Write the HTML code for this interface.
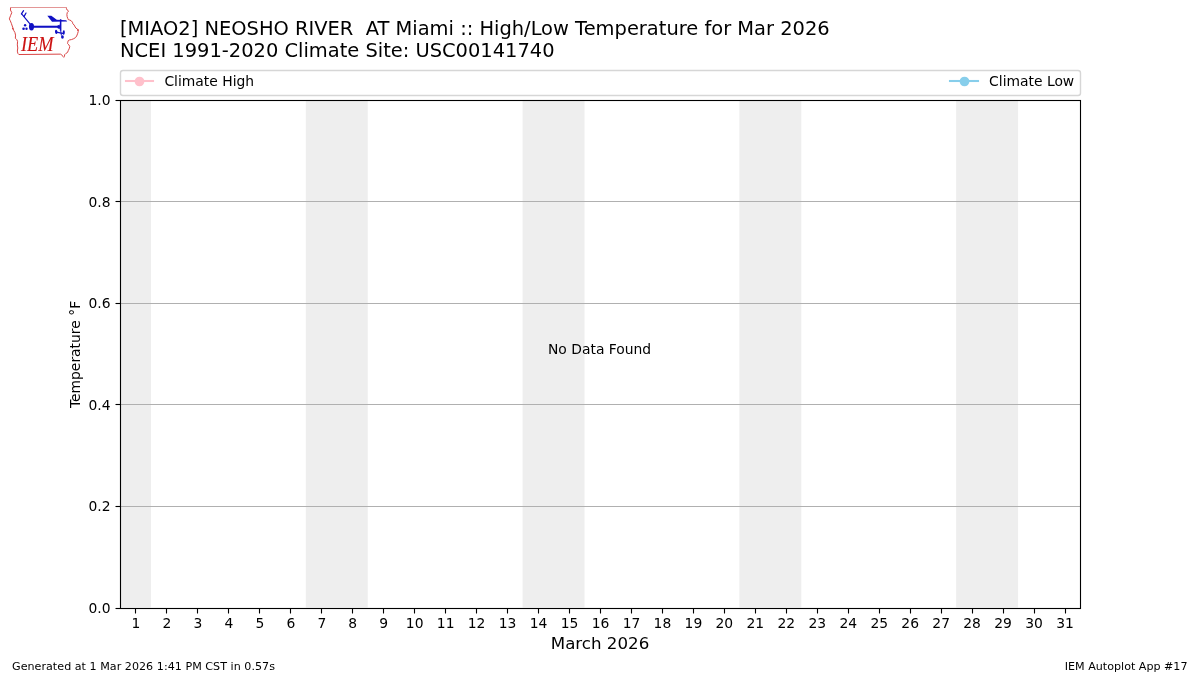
<!DOCTYPE html>
<html lang="en"><head><meta charset="utf-8"><title>IEM Autoplot App #17</title>
<style>
html,body{margin:0;padding:0;background:#fff;}
body{width:1200px;height:675px;overflow:hidden;}
svg{display:block;}
svg text{font-family:"DejaVu Sans","Liberation Sans",sans-serif;fill:#000;}
.t10{font-size:13.889px;}
.t14{font-size:19.444px;}
.t12{font-size:16.667px;}
.t8{font-size:11.111px;}
</style></head>
<body>
<svg width="1200" height="675" viewBox="0 0 1200 675">
<rect x="0" y="0" width="1200" height="675" fill="#ffffff"/>
<g fill="#eeeeee">
<rect x="120.00" y="99.90" width="30.97" height="507.60"/>
<rect x="305.81" y="99.90" width="61.94" height="507.60"/>
<rect x="522.58" y="99.90" width="61.94" height="507.60"/>
<rect x="739.35" y="99.90" width="61.94" height="507.60"/>
<rect x="956.13" y="99.90" width="61.94" height="507.60"/>
</g>
<g stroke="#b0b0b0" stroke-width="1.11" fill="none">
<line x1="120.50" y1="506.50" x2="1080.50" y2="506.50"/>
<line x1="120.50" y1="404.50" x2="1080.50" y2="404.50"/>
<line x1="120.50" y1="303.50" x2="1080.50" y2="303.50"/>
<line x1="120.50" y1="201.50" x2="1080.50" y2="201.50"/>
</g>
<g stroke="#000" stroke-width="1.11" fill="none">
<line x1="115.50" y1="608.50" x2="120.50" y2="608.50"/>
<line x1="115.50" y1="506.50" x2="120.50" y2="506.50"/>
<line x1="115.50" y1="404.50" x2="120.50" y2="404.50"/>
<line x1="115.50" y1="303.50" x2="120.50" y2="303.50"/>
<line x1="115.50" y1="201.50" x2="120.50" y2="201.50"/>
<line x1="115.50" y1="100.50" x2="120.50" y2="100.50"/>
<line x1="135.50" y1="608.50" x2="135.50" y2="613.50"/>
<line x1="166.50" y1="608.50" x2="166.50" y2="613.50"/>
<line x1="197.50" y1="608.50" x2="197.50" y2="613.50"/>
<line x1="228.50" y1="608.50" x2="228.50" y2="613.50"/>
<line x1="259.50" y1="608.50" x2="259.50" y2="613.50"/>
<line x1="290.50" y1="608.50" x2="290.50" y2="613.50"/>
<line x1="321.50" y1="608.50" x2="321.50" y2="613.50"/>
<line x1="352.50" y1="608.50" x2="352.50" y2="613.50"/>
<line x1="383.50" y1="608.50" x2="383.50" y2="613.50"/>
<line x1="414.50" y1="608.50" x2="414.50" y2="613.50"/>
<line x1="445.50" y1="608.50" x2="445.50" y2="613.50"/>
<line x1="476.50" y1="608.50" x2="476.50" y2="613.50"/>
<line x1="507.50" y1="608.50" x2="507.50" y2="613.50"/>
<line x1="538.50" y1="608.50" x2="538.50" y2="613.50"/>
<line x1="569.50" y1="608.50" x2="569.50" y2="613.50"/>
<line x1="600.50" y1="608.50" x2="600.50" y2="613.50"/>
<line x1="631.50" y1="608.50" x2="631.50" y2="613.50"/>
<line x1="662.50" y1="608.50" x2="662.50" y2="613.50"/>
<line x1="693.50" y1="608.50" x2="693.50" y2="613.50"/>
<line x1="724.50" y1="608.50" x2="724.50" y2="613.50"/>
<line x1="755.50" y1="608.50" x2="755.50" y2="613.50"/>
<line x1="786.50" y1="608.50" x2="786.50" y2="613.50"/>
<line x1="817.50" y1="608.50" x2="817.50" y2="613.50"/>
<line x1="848.50" y1="608.50" x2="848.50" y2="613.50"/>
<line x1="879.50" y1="608.50" x2="879.50" y2="613.50"/>
<line x1="910.50" y1="608.50" x2="910.50" y2="613.50"/>
<line x1="941.50" y1="608.50" x2="941.50" y2="613.50"/>
<line x1="972.50" y1="608.50" x2="972.50" y2="613.50"/>
<line x1="1003.50" y1="608.50" x2="1003.50" y2="613.50"/>
<line x1="1034.50" y1="608.50" x2="1034.50" y2="613.50"/>
<line x1="1065.50" y1="608.50" x2="1065.50" y2="613.50"/>
</g>
<rect x="120.50" y="100.50" width="960.00" height="508.00" fill="none" stroke="#000" stroke-width="1.11"/>
<g class="t10" text-anchor="end">
<text x="110.50" y="613.00">0.0</text>
<text x="110.50" y="511.00">0.2</text>
<text x="110.50" y="410.00">0.4</text>
<text x="110.50" y="308.00">0.6</text>
<text x="110.50" y="207.00">0.8</text>
<text x="110.50" y="105.00">1.0</text>
</g>
<g class="t10" text-anchor="middle">
<text x="135.98" y="628.40">1</text>
<text x="166.95" y="628.40">2</text>
<text x="197.92" y="628.40">3</text>
<text x="228.89" y="628.40">4</text>
<text x="259.85" y="628.40">5</text>
<text x="290.82" y="628.40">6</text>
<text x="321.79" y="628.40">7</text>
<text x="352.76" y="628.40">8</text>
<text x="383.73" y="628.40">9</text>
<text x="414.69" y="628.40">10</text>
<text x="445.66" y="628.40">11</text>
<text x="476.63" y="628.40">12</text>
<text x="507.60" y="628.40">13</text>
<text x="538.56" y="628.40">14</text>
<text x="569.53" y="628.40">15</text>
<text x="600.50" y="628.40">16</text>
<text x="631.47" y="628.40">17</text>
<text x="662.44" y="628.40">18</text>
<text x="693.40" y="628.40">19</text>
<text x="724.37" y="628.40">20</text>
<text x="755.34" y="628.40">21</text>
<text x="786.31" y="628.40">22</text>
<text x="817.27" y="628.40">23</text>
<text x="848.24" y="628.40">24</text>
<text x="879.21" y="628.40">25</text>
<text x="910.18" y="628.40">26</text>
<text x="941.15" y="628.40">27</text>
<text x="972.11" y="628.40">28</text>
<text x="1003.08" y="628.40">29</text>
<text x="1034.05" y="628.40">30</text>
<text x="1065.02" y="628.40">31</text>
</g>
<text class="t12" text-anchor="middle" x="600" y="649">March 2026</text>
<text class="t10" text-anchor="middle" transform="translate(79.7,354.5) rotate(-90)">Temperature °F</text>
<text class="t10" text-anchor="middle" x="599.6" y="354">No Data Found</text>
<text class="t14" x="120" y="34.5" xml:space="preserve" style="white-space:pre">[MIAO2] NEOSHO RIVER  AT Miami :: High/Low Temperature for Mar 2026</text>
<text class="t14" x="120" y="56.5">NCEI 1991-2020 Climate Site: USC00141740</text>
<rect x="120.5" y="70.5" width="960" height="25" rx="2.5" ry="2.5" fill="#ffffff" fill-opacity="0.8" stroke="#cccccc" stroke-opacity="0.8" stroke-width="1.4"/>
<line x1="124.95" y1="81" x2="154.05" y2="81" stroke="#ffc0cb" stroke-width="2.08"/>
<circle cx="139.5" cy="81.5" r="4.85" fill="#ffc0cb"/>
<text class="t10" x="164.4" y="86.2">Climate High</text>
<line x1="948.95" y1="81" x2="979.05" y2="81" stroke="#87ceeb" stroke-width="2.08"/>
<circle cx="964.5" cy="81.5" r="4.85" fill="#87ceeb"/>
<text class="t10" x="989.1" y="86.2">Climate Low</text>
<text class="t8" x="12" y="670" letter-spacing="0.03">Generated at 1 Mar 2026 1:41 PM CST in 0.57s</text>
<text class="t8" text-anchor="end" x="1187.5" y="670">IEM Autoplot App #17</text>
<g id="logo">
<path d="M66.44 7.47 L66.49 8.67 L67.11 10.00 L68.44 10.89 L68.22 11.56 L67.33 12.44 L66.89 14.44 L67.11 16.67 L67.78 18.44 L68.22 19.56 L69.56 20.00 L71.11 20.67 L72.44 22.22 L72.89 23.78 L74.22 25.11 L75.11 26.89 L76.00 28.22 L77.56 29.11 L78.00 30.89 L78.00 29.33 L78.22 31.56 L77.56 33.78 L76.67 36.00 L75.56 37.56 L73.78 38.67 L71.56 39.56 L69.33 40.00 L68.22 40.67 L67.78 42.22 L67.56 43.56 L68.89 44.89 L69.78 46.67 L69.11 48.89 L68.22 50.67 L67.56 52.44 L65.78 53.56 L64.67 54.67 L64.44 56.44 L63.78 57.33 L62.89 56.44 L61.56 54.67 L60.44 54.13 L18.89 54.53 L17.87 53.42 L17.33 51.11 L17.78 48.00 L17.33 44.89 L17.56 41.33 L16.89 39.78 L15.33 38.22 L15.56 35.11 L14.89 32.44 L13.56 30.22 L12.22 28.00 L13.56 29.56 L12.22 26.00 L11.33 23.33 L10.22 20.67 L9.33 18.89 L10.67 15.33 L11.78 12.67 L10.44 10.00 L10.58 7.47" fill="none" stroke="#d94545" stroke-width="1.0" stroke-linejoin="round"/>
<line x1="10.18" y1="7.5" x2="66.84" y2="7.5" stroke="#e39696" stroke-width="1"/>
<ellipse cx="31.49" cy="26.74" rx="2.54" ry="3.68" fill="#1010c4"/>
<line x1="31.49" y1="26.74" x2="60.63" y2="26.74" stroke="#1010c4" stroke-width="2.05" />
<line x1="30.56" y1="24.67" x2="21.64" y2="13.78" stroke="#1010c4" stroke-width="1.15" stroke-linecap="round"/>
<line x1="21.43" y1="13.88" x2="23.56" y2="10.67" stroke="#1010c4" stroke-width="1.25" stroke-linecap="round"/>
<line x1="24.13" y1="16.37" x2="25.99" y2="13.05" stroke="#1010c4" stroke-width="1.25" stroke-linecap="round"/>
<ellipse cx="25.11" cy="25.29" rx="1.19" ry="1.19" fill="#1010c4"/>
<ellipse cx="23.56" cy="28.71" rx="1.30" ry="1.30" fill="#1010c4"/>
<ellipse cx="26.51" cy="28.71" rx="1.19" ry="1.19" fill="#1010c4"/>
<line x1="60.63" y1="19.22" x2="60.63" y2="30.89" stroke="#1010c4" stroke-width="1.55" />
<line x1="60.73" y1="30.89" x2="61.41" y2="35.56" stroke="#1010c4" stroke-width="1.00" />
<polygon points="47.33,15.78 51.33,15.78 56.76,19.78 66.22,20.13 67.20,21.38 52.00,21.73" fill="#1010c4"/>
<polygon points="57.33,25.78 59.78,24.44 59.78,29.33 57.33,28.00" fill="#1010c4"/>
<ellipse cx="56.22" cy="31.93" rx="1.24" ry="2.13" fill="#1010c4" transform="rotate(-8 56.22 31.93)"/>
<ellipse cx="63.74" cy="32.55" rx="1.09" ry="2.23" fill="#1010c4" transform="rotate(4 63.74 32.55)"/>
<ellipse cx="62.44" cy="36.96" rx="1.40" ry="1.76" fill="#1010c4"/>
<line x1="56.48" y1="32.08" x2="63.74" y2="33.59" stroke="#1010c4" stroke-width="1.15" />
<text x="21.0" y="51.3" font-size="21.4" textLength="32.6" lengthAdjust="spacingAndGlyphs" style="font-family:'Liberation Serif','DejaVu Serif',serif;font-style:italic;fill:#cc1212;stroke:#cc1212;stroke-width:0.15px;">IEM</text>
</g>
</svg>
</body></html>
